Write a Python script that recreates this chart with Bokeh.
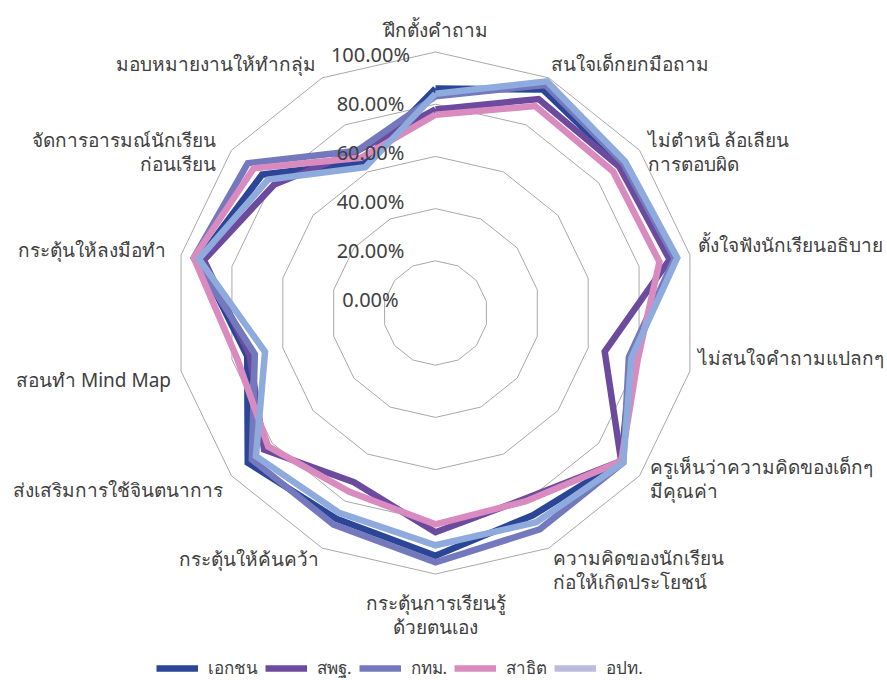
import numpy as np
from bokeh.plotting import figure
from bokeh.models import Legend, LegendItem
from bokeh.core.properties import value
from bokeh.embed import file_html
from bokeh.resources import INLINE

# ---------------- data ----------------
categories = [
    "ฝึกตั้งคำถาม",
    "สนใจเด็กยกมือถาม",
    "ไม่ตำหนิ ล้อเลียน\nการตอบผิด",
    "ตั้งใจฟังนักเรียนอธิบาย",
    "ไม่สนใจคำถามแปลกๆ",
    "ครูเห็นว่าความคิดของเด็กๆ\nมีคุณค่า",
    "ความคิดของนักเรียน\nก่อให้เกิดประโยชน์",
    "กระตุ้นการเรียนรู้\nด้วยตนเอง",
    "กระตุ้นให้ค้นคว้า",
    "ส่งเสริมการใช้จินตนาการ",
    "สอนทำ Mind Map",
    "กระตุ้นให้ลงมือทำ",
    "จัดการอารมณ์นักเรียน\nก่อนเรียน",
    "มอบหมายงานให้ทำกลุ่ม",
]
series_names = ["เอกชน", "สพฐ.", "กทม.", "สาธิต", "อปท."]
private = [86, 95, 91, 94, 77, 91, 86, 93, 87.5, 92, 74, 93, 85, 64]
obec = [78, 91, 90, 92, 66.5, 91, 79, 84, 72, 84, 73, 91, 79, 69]
bma = [83, 97, 92, 94, 76, 92, 92, 95.5, 90, 90, 71, 95, 92, 69]
demo = [76, 88, 87, 88, 79.5, 91, 80, 81, 76, 82, 78, 95, 89, 66]
lao = [84, 98.5, 93, 95, 77, 92, 89, 89, 85, 88, 67, 93, 82, 62]
ring_levels = [0, 20, 40, 60, 80, 100]
ring_labels = ["0.00%", "20.00%", "40.00%", "60.00%", "80.00%", "100.00%"]

# ---------------- styles ----------------
line_colors = ["#2B4696", "#6C4B9F", "#7479BE", "#D98BBF", "#8FAADC"]
legend_colors = ["#2B4696", "#6C4B9F", "#7479BE", "#D98BBF", "#BDBADF"]
FONT = "Noto Sans"
TXT = "#404040"
UNIT = 2.61  # px per percent

W, H = 885, 678
CX, CY = 435, 312.5  # center in figure px (from left / top)

p = figure(width=W, height=H, output_backend="svg", toolbar_location=None,
           x_range=(-CX, W - CX), y_range=(-(H - CY), CY),
           x_axis_type=None, y_axis_type=None, min_border=0)
p.outline_line_color = None
p.grid.visible = False
p.background_fill_color = "white"
p.border_fill_color = "white"

n = len(categories)
ang = np.pi / 2 - np.arange(n) * 2 * np.pi / n
cosv, sinv = np.cos(ang), np.sin(ang)

# rings
for lv in ring_levels[1:]:
    r = lv * UNIT
    xs = list(r * cosv) + [r * cosv[0]]
    ys = list(r * sinv) + [r * sinv[0]]
    p.line(xs, ys, line_color="#A8A8A8", line_width=1)

# series
renderers = []
for vals, col in zip([private, obec, bma, demo, lao], line_colors):
    v = np.array(vals, dtype=float) * UNIT
    xs = list(v * cosv) + [v[0] * cosv[0]]
    ys = list(v * sinv) + [v[0] * sinv[0]]
    r = p.line(xs, ys, line_color=col, line_width=6.5, line_join="miter")
    renderers.append(r)

# ring labels (drawn on top of the series)
rl_y = [13.5 + 49 * i for i in range(len(ring_levels))]
p.text(x=[-65] * len(ring_labels), y=rl_y, text=ring_labels,
       text_font=value(FONT), text_font_size="20px", text_color=TXT,
       text_align="center", text_baseline="middle")

# category labels (offsets in px relative to 100% vertex, y downwards)
offsets = [(0, -22), (2, -14), (8, 2), (8, -10), (8, -13), (10, 3), (4, 22),
           (0, 41), (-3, 11), (-8, 14), (-10, 9), (-15, -5), (-15, 2), (-6, -14)]
aligns = ["center", "left", "left", "left", "left", "left", "left",
          "center", "right", "right", "right", "right", "right", "right"]
R100 = 100 * UNIT
for k in range(n):
    dx, dy = offsets[k]
    p.text(x=[R100 * cosv[k] + dx], y=[R100 * sinv[k] - dy], text=[categories[k]],
           text_font=value(FONT), text_font_size="19px", text_color=TXT,
           text_align=aligns[k], text_baseline="middle", text_line_height=0.92)

# legend
items = []
for i, name in enumerate(series_names):
    if legend_colors[i] == line_colors[i]:
        rr = renderers[i]
    else:
        rr = p.line([0], [0], line_color=legend_colors[i], line_width=6.5)
    items.append(LegendItem(label=name, renderers=[rr]))
legend = Legend(items=items, orientation="horizontal", location=(156, -3),
                glyph_width=42, glyph_height=20, label_standoff=10, spacing=7,
                padding=0, margin=0, border_line_color=None,
                background_fill_alpha=0, label_text_font=FONT,
                label_text_font_size="17px", label_text_color=TXT)
p.add_layout(legend, "center")

open("out.html", "w").write(file_html(p, INLINE))
